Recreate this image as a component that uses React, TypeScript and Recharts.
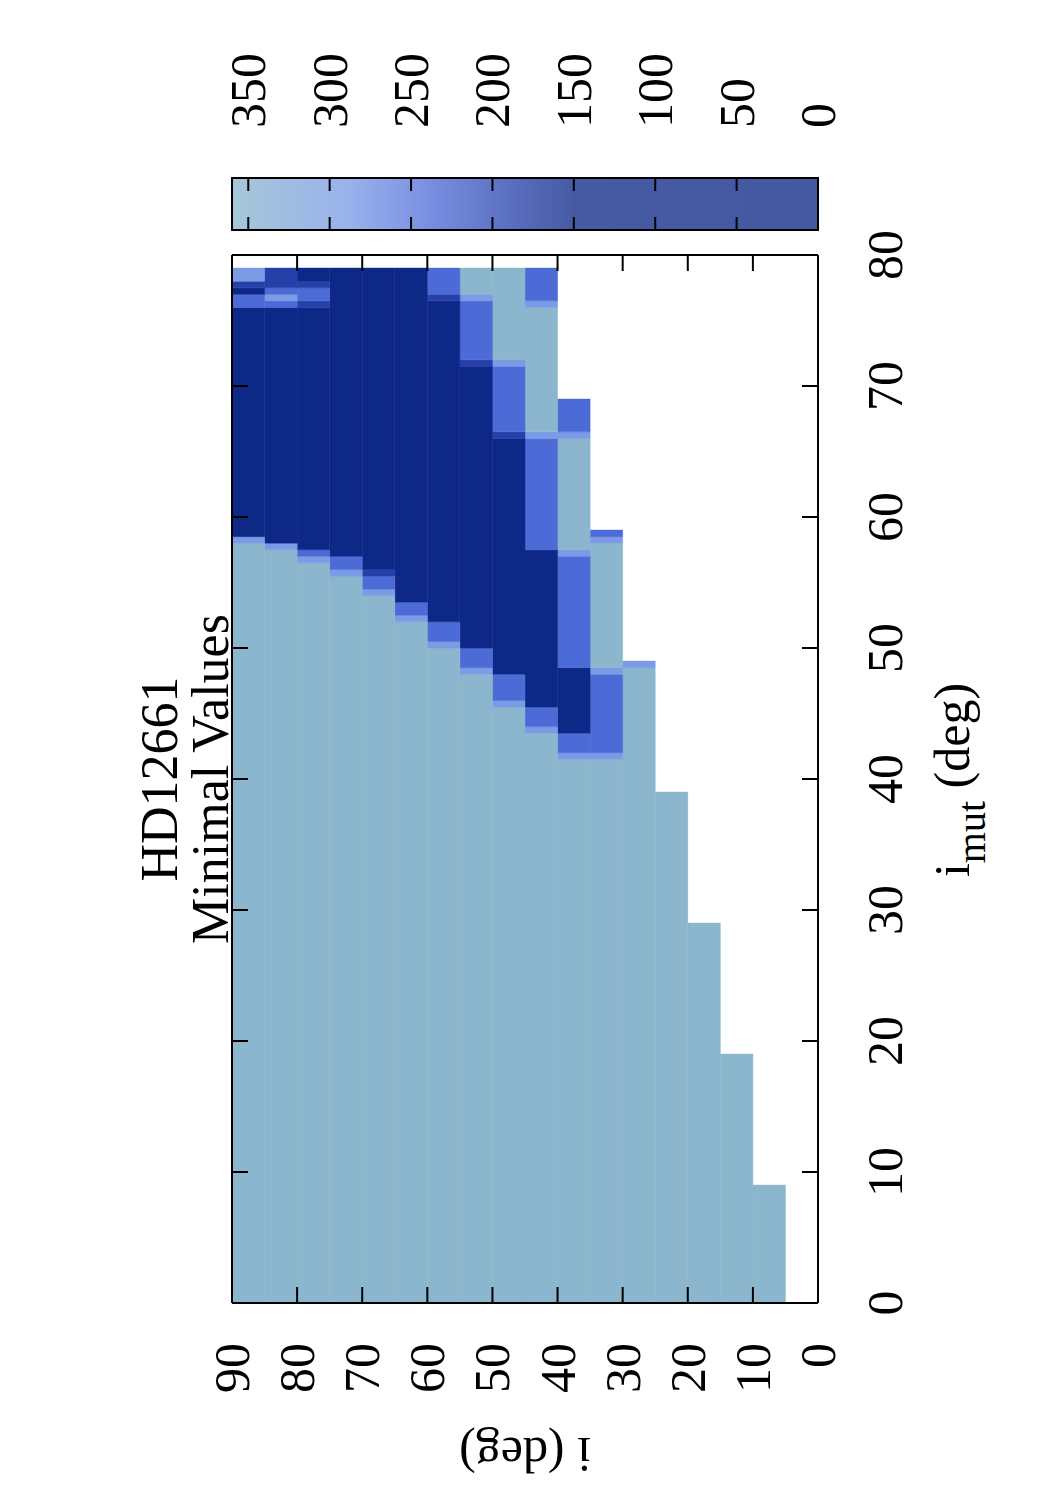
import React from "react";
import { ComposedChart, Label, ReferenceArea, ScatterChart, XAxis, YAxis } from "recharts";

// axes
const iMutTicks = [0, 10, 20, 30, 40, 50, 60, 70, 80];
const iTicks = [0, 10, 20, 30, 40, 50, 60, 70, 80, 90];
const cbTicks = [0, 50, 100, 150, 200, 250, 300, 350];

// lower edge of every i cell (cells are 5 deg wide)
const iBins = [5, 10, 15, 20, 25, 30, 35, 40, 45, 50, 55, 60, 65, 70, 75, 80, 85];

// runs along i_mut for each i cell: [from, to, value]
const col5 = [[0, 9, 358]];
const col10 = [[0, 19, 358]];
const col15 = [[0, 29, 358]];
const col20 = [[0, 39, 358]];
const col25 = [[0, 48.5, 358], [48.5, 49, 290]];
const col30 = [[0, 41.5, 358], [41.5, 42, 290], [42, 48, 235], [48, 48.5, 290], [48.5, 58, 358], [58, 58.5, 290], [58.5, 59, 235]];
const col35 = [[0, 41.5, 358], [41.5, 42, 290], [42, 43.5, 235], [43.5, 48.5, 60], [48.5, 57, 235], [57, 57.5, 290], [57.5, 66, 358], [66, 66.5, 290], [66.5, 69, 235]];
const col40 = [[0, 43.5, 358], [43.5, 44, 290], [44, 45.5, 235], [45.5, 57.5, 60], [57.5, 66, 235], [66, 66.5, 290], [66.5, 76, 358], [76, 76.5, 290], [76.5, 79, 235]];
const col45 = [[0, 45.5, 358], [45.5, 46, 290], [46, 48, 235], [48, 66, 60], [66, 66.5, 185], [66.5, 71.5, 235], [71.5, 72, 290], [72, 79, 358]];
const col50 = [[0, 48, 358], [48, 48.5, 290], [48.5, 50, 235], [50, 71.5, 60], [71.5, 72, 185], [72, 76.5, 235], [76.5, 77, 290], [77, 79, 358]];
const col55 = [[0, 50, 358], [50, 50.5, 290], [50.5, 52, 235], [52, 76.5, 60], [76.5, 77, 185], [77, 79, 235]];
const col60 = [[0, 52, 358], [52, 52.5, 290], [52.5, 53.5, 235], [53.5, 79, 60]];
const col65 = [[0, 54, 358], [54, 54.5, 290], [54.5, 55.5, 235], [55.5, 56, 185], [56, 79, 60]];
const col70 = [[0, 55.5, 358], [55.5, 56, 290], [56, 57, 235], [57, 79, 60]];
const col75 = [[0, 56.5, 358], [56.5, 57, 290], [57, 57.5, 235], [57.5, 76, 60], [76, 76.5, 185], [76.5, 77.5, 235], [77.5, 78, 185], [78, 79, 60]];
const col80 = [[0, 57.5, 358], [57.5, 58, 290], [58, 76, 60], [76, 76.5, 235], [76.5, 77, 290], [77, 77.5, 235], [77.5, 79, 185]];
const col85 = [[0, 58, 358], [58, 58.5, 290], [58.5, 76, 60], [76, 77, 235], [77, 77.5, 60], [77.5, 78, 185], [78, 79, 290]];

const columns = [col5, col10, col15, col20, col25, col30, col35, col40, col45, col50, col55, col60, col65, col70, col75, col80, col85];

const FONT = "'Liberation Serif', 'Times New Roman', Times, serif";

const paletteStops: [number, string][] = [
  [0, "#0d2785"],
  [150, "#0f2989"],
  [185, "#2540a8"],
  [235, "#4d6bd6"],
  [290, "#7b9be6"],
  [358, "#8bb6cd"],
  [360, "#8bb6cd"],
];

function rgb(h: string) {
  return [1, 3, 5].map((k) => parseInt(h.slice(k, k + 2), 16));
}

function colorOf(v: number) {
  for (let k = 1; k < paletteStops.length; k++) {
    const [v1, c1] = paletteStops[k];
    if (v <= v1) {
      const [v0, c0] = paletteStops[k - 1];
      const t = (v - v0) / (v1 - v0);
      const a = rgb(c0);
      const b = rgb(c1);
      const m = a.map((x, j) => Math.round(x + (b[j] - x) * t));
      return `rgb(${m[0]},${m[1]},${m[2]})`;
    }
  }
  return paletteStops[paletteStops.length - 1][1];
}

const txt = { fontFamily: FONT };

const BottomTick = ({ x, y, payload }: any) => (
  <g>
    <line x1={x} y1={y} x2={x} y2={y - 16} stroke="#000" strokeWidth={2} />
    <text x={x} y={y + 84} textAnchor="middle" fontSize={50} style={txt} fill="#000">
      {payload.value}
    </text>
  </g>
);

const TopTick = ({ x, y }: any) => <line x1={x} y1={y} x2={x} y2={y + 16} stroke="#000" strokeWidth={2} />;

const LeftTick = ({ x, y, payload }: any) => (
  <g>
    <line x1={x} y1={y} x2={x + 16} y2={y} stroke="#000" strokeWidth={2} />
    <text x={x - 40} y={y} dy="0.34em" textAnchor="end" fontSize={50} style={txt} fill="#000">
      {payload.value}
    </text>
  </g>
);

const RightTick = ({ x, y }: any) => <line x1={x} y1={y} x2={x - 16} y2={y} stroke="#000" strokeWidth={2} />;

const CbTick = ({ x, y, payload }: any) => (
  <g>
    <line x1={x} y1={y} x2={x - 13} y2={y} stroke="#000" strokeWidth={2} />
    <line x1={x - 52} y1={y} x2={x - 39} y2={y} stroke="#000" strokeWidth={2} />
    <text x={x + 50} y={y} dy="0.34em" fontSize={50} style={txt} fill="#000">
      {payload.value}
    </text>
  </g>
);

const TitleLabel = ({ viewBox }: any) => {
  const cx = viewBox.x + viewBox.width / 2;
  const top = viewBox.y + viewBox.height;
  return (
    <text textAnchor="middle" fontSize={52} style={txt} fill="#000">
      <tspan x={cx} y={top - 55}>HD12661</tspan>
      <tspan x={cx} y={top - 4}>Minimal Values</tspan>
    </text>
  );
};

const XLabel = ({ viewBox }: any) => (
  <text x={viewBox.x + viewBox.width / 2 - 1} y={viewBox.y + 151} textAnchor="middle" fontSize={50} style={txt} fill="#000">
    i<tspan fontSize={40} dy={16}>mut</tspan>
    <tspan dy={-16}> (deg)</tspan>
  </text>
);

const YLabel = ({ viewBox }: any) => {
  const cx = viewBox.x + viewBox.width - 135;
  const cy = viewBox.y + viewBox.height / 2;
  return (
    <text x={cx} y={cy} transform={`rotate(-90 ${cx} ${cy})`} textAnchor="middle" fontSize={50} style={txt} fill="#000">
      i (deg)
    </text>
  );
};

const frame = { stroke: "#000", strokeWidth: 2 };

export default function App() {
  return (
    <div style={{ position: "absolute", left: 0, top: 0, width: 1050, height: 1500, overflow: "hidden", background: "#fff" }}>
      <div
        style={{
          position: "absolute",
          left: 0,
          top: 0,
          width: 1500,
          height: 1050,
          transformOrigin: "0 0",
          transform: "translate(0px, 1500px) rotate(-90deg)",
        }}
      >
        <div style={{ position: "absolute", left: 0, top: 0 }}>
          <ScatterChart width={1500} height={1050} margin={{ top: 231, right: 254, bottom: 231, left: 196 }}>
            {columns.map((runs, k) =>
              runs.map(([from, to, v], j) => (
                <ReferenceArea
                  key={`${k}-${j}`}
                  x1={from}
                  x2={to}
                  y1={iBins[k]}
                  y2={iBins[k] + 5}
                  fill={colorOf(v)}
                  fillOpacity={1}
                  stroke={colorOf(v)}
                  strokeWidth={0.5}
                  ifOverflow="visible"
                />
              ))
            )}
            <XAxis
              type="number"
              dataKey="x"
              domain={[0, 80]}
              allowDataOverflow
              ticks={iMutTicks}
              interval={0}
              height={1}
              tickSize={0}
              tickMargin={0}
              tick={<BottomTick />}
              tickLine={false}
              axisLine={frame}
            >
              <Label content={<XLabel />} />
            </XAxis>
            <XAxis
              xAxisId="top"
              orientation="top"
              type="number"
              dataKey="x"
              domain={[0, 80]}
              allowDataOverflow
              ticks={iMutTicks}
              interval={0}
              height={1}
              tickSize={0}
              tickMargin={0}
              tick={<TopTick />}
              tickLine={false}
              axisLine={frame}
            >
              <Label content={<TitleLabel />} />
            </XAxis>
            <YAxis
              type="number"
              dataKey="y"
              domain={[0, 90]}
              allowDataOverflow
              ticks={iTicks}
              interval={0}
              width={1}
              tickSize={0}
              tickMargin={0}
              tick={<LeftTick />}
              tickLine={false}
              axisLine={frame}
            >
              <Label content={<YLabel />} />
            </YAxis>
            <YAxis
              yAxisId="right"
              orientation="right"
              type="number"
              dataKey="y"
              domain={[0, 90]}
              allowDataOverflow
              ticks={iTicks}
              interval={0}
              width={1}
              tickSize={0}
              tickMargin={0}
              tick={<RightTick />}
              tickLine={false}
              axisLine={frame}
            />
          </ScatterChart>
        </div>
        <div style={{ position: "absolute", left: 1200, top: 0 }}>
          <ComposedChart width={300} height={1050} margin={{ top: 232, right: 0, bottom: 232, left: 70 }}>
            <defs>
              <linearGradient id="cbGrad" x1="0" y1="1" x2="0" y2="0">
                {paletteStops.map(([v, c]) => (
                  <stop key={v} offset={`${(v / 360) * 100}%`} stopColor={c} />
                ))}
              </linearGradient>
            </defs>
            <XAxis type="number" dataKey="x" domain={[0, 1]} allowDataOverflow hide />
            <YAxis
              orientation="right"
              type="number"
              domain={[0, 360]}
              allowDataOverflow
              ticks={cbTicks}
              interval={0}
              width={178}
              tickSize={0}
              tickMargin={0}
              tick={<CbTick />}
              tickLine={false}
              axisLine={false}
            />
            <ReferenceArea y1={0} y2={360} fill="url(#cbGrad)" fillOpacity={0.77} stroke="#000" strokeWidth={2} ifOverflow="visible" />
          </ComposedChart>
        </div>
      </div>
    </div>
  );
}
